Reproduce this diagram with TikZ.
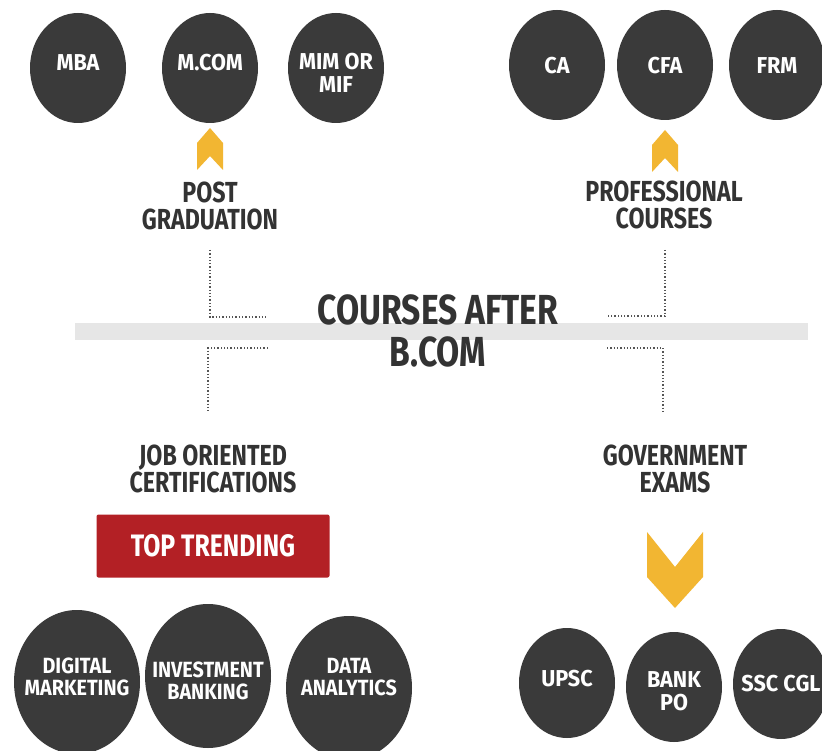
\documentclass[tikz,border=0pt]{standalone}
\usepackage{fontspec}
\usetikzlibrary{shapes.geometric}
\newfontfamily\lblf{Fira Sans}[FakeStretch=0.8]
\newfontfamily\circf{Fira Sans}[FakeStretch=0.94]
\newfontfamily\circbf{Fira Sans}[FakeStretch=0.9]
\definecolor{dkgray}{HTML}{3A3A3A}
\definecolor{txtgray}{HTML}{333333}
\definecolor{chev}{HTML}{F2B632}
\definecolor{band}{HTML}{E6E6E6}
\definecolor{redbox}{HTML}{B32025}
\definecolor{dotc}{HTML}{555555}
\tikzset{
  blob/.style={ellipse, fill=dkgray, inner sep=0pt},
  smallblob/.style={blob, minimum width=96pt, minimum height=110pt},
  bigblob/.style={blob, minimum width=126pt, minimum height=144pt},
  ctext/.style={text=white, align=center, inner sep=0pt,
    font=\circf\bfseries\fontsize{23}{23}\selectfont},
  btext/.style={text=white, align=center, inner sep=0pt,
    font=\circbf\bfseries\fontsize{22}{22}\selectfont},
  lbl/.style={text=txtgray, align=center, font=\lblf\bfseries\fontsize{29}{27}\selectfont},
  dotline/.style={dotc, line width=1.3pt, dotted},
  chevfill/.style={fill=chev, draw=none}
}
\begin{document}
\begin{tikzpicture}[x=1pt,y=-1pt]
\useasboundingbox[fill=white] (0,0) rectangle (822,751);
% band
\fill[band] (75,323) rectangle (808,340);
% title
\node[text=txtgray, align=center, font=\lblf\bfseries\fontsize{42}{42}\selectfont] (title) at (438,331) {COURSES AFTER\\B.COM};
% top-left circles
\node[smallblob] (mba) at (78,68) {};
\node[smallblob] (mcom) at (210,68) {};
\node[smallblob] (mim) at (336,68) {};
\node[ctext] (mbaT) at (78,63) {MBA};
\node[ctext] (mcomT) at (210,63) {M.COM};
\node[ctext] (mimT) at (336,73) {MIM OR\\MIF};
% top-right circles
\node[smallblob] (ca) at (557,65) {};
\node[smallblob] (cfa) at (665,65) {};
\node[smallblob] (frm) at (777,65) {};
\node[ctext] (caT) at (557,66) {CA};
\node[ctext] (cfaT) at (665,66) {CFA};
\node[ctext] (frmT) at (777,66) {FRM};
% labels
\node[lbl] (pg) at (210,206) {POST\\GRADUATION};
\node[lbl] (pc) at (664,205) {PROFESSIONAL\\COURSES};
\node[lbl] (jo) at (213,469) {JOB ORIENTED\\CERTIFICATIONS};
\node[lbl] (ge) at (675,469) {GOVERNMENT\\EXAMS};
% up chevrons
\fill[chevfill] (197,170) -- (210,156) -- (223,170) -- (223,143) -- (210,128) -- (197,143) -- cycle;
\fill[chevfill] (652,172) -- (665,158) -- (678,172) -- (678,145) -- (665,130) -- (652,145) -- cycle;
% down chevron
\fill[chevfill] (647,532) -- (675,567) -- (703,532) -- (703,577) -- (675,608) -- (647,577) -- cycle;
% top trending
\node[fill=redbox, rounded corners=2pt, minimum width=233pt, minimum height=63pt, text=white,
  font=\lblf\bfseries\fontsize{31}{31}\selectfont] (tt) at (213,546) {TOP TRENDING};
% bottom-left circles
\node[bigblob] (dm) at (77,682) {};
\node[bigblob] (ib) at (208,676) {};
\node[bigblob] (da) at (349,688) {};
\node[btext] (dmT) at (77,677) {DIGITAL\\MARKETING};
\node[btext] (ibT) at (208,681) {INVESTMENT\\BANKING};
\node[btext] (daT) at (349,677) {DATA\\ANALYTICS};
% bottom-right circles
\node[smallblob] (upsc) at (567,683) {};
\node[smallblob] (bank) at (674,687) {};
\node[smallblob] (ssc) at (781,684) {};
\node[ctext] (upscT) at (567,679) {UPSC};
\node[ctext] (bankT) at (674,691) {BANK\\PO};
\node[ctext] (sscT) at (781,684) {SSC CGL};
% dotted connectors
\coordinate (a1) at (210,250);
\coordinate (a2) at (268,317);
\coordinate (b1) at (268,348);
\coordinate (b2) at (208,412);
\coordinate (c1) at (665,250);
\coordinate (c2) at (607,316);
\coordinate (d1) at (607,348);
\coordinate (d2) at (663,412);
\draw[dotline] (a1) |- (a2);
\draw[dotline] (b1) -| (b2);
\draw[dotline] (c1) |- (c2);
\draw[dotline] (d1) -| (d2);
\end{tikzpicture}
\end{document}
